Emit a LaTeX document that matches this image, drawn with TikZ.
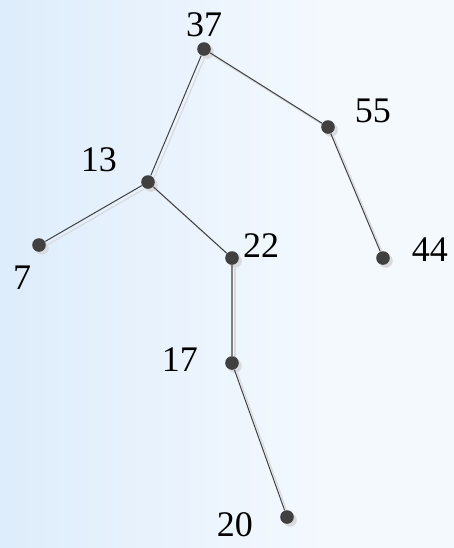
\documentclass[tikz,border=0pt]{standalone}
\usepackage{fontspec}
\setmainfont{Liberation Serif}
\definecolor{bgleft}{RGB}{214,232,250}
\definecolor{bgmid}{RGB}{244,249,254}
\definecolor{dotgray}{RGB}{64,64,64}
\definecolor{shadowgray}{RGB}{216,218,222}

\begin{document}
\begin{tikzpicture}[
    x=0.5pt, y=-0.5pt,
    dot/.style={circle, fill=dotgray, inner sep=0pt, minimum size=6.8pt},
    dotshadow/.style={circle, fill=shadowgray, inner sep=0pt, minimum size=6.8pt},
    key/.style={font=\fontsize{18}{20}\selectfont, inner sep=0pt},
    edge/.style={line width=0.5pt, draw=dotgray},
    edgeshadow/.style={line width=0.6pt, draw=shadowgray}
]
    % Background
    \useasboundingbox (0,0) rectangle (454,548);
    \begin{scope}
        \clip (0,0) rectangle (454,548);
        \fill[bgmid] (0,0) rectangle (454,548);
        \shade[left color=bgleft, right color=bgmid] (-110,0) rectangle (330,548);
    \end{scope}

    % Shadows
    \begin{scope}[shift={(3,3)}]
        \node[dotshadow] (s37) at (204,49) {};
        \node[dotshadow] (s55) at (328,127) {};
        \node[dotshadow] (s13) at (148,182) {};
        \node[dotshadow] (s7) at (39,245) {};
        \node[dotshadow] (s22) at (232,258) {};
        \node[dotshadow] (s44) at (383,258) {};
        \node[dotshadow] (s17) at (232,363) {};
        \node[dotshadow] (s20) at (287,517) {};
        \draw[edgeshadow] (s37) -- (s55);
        \draw[edgeshadow] (s37) -- (s13);
        \draw[edgeshadow] (s55) -- (s44);
        \draw[edgeshadow] (s13) -- (s7);
        \draw[edgeshadow] (s13) -- (s22);
        \draw[edgeshadow] (s22) -- (s17);
        \draw[edgeshadow] (s17) -- (s20);
    \end{scope}

    % Keys
    \node[dot] (n37) at (204,49) {};
    \node[dot] (n55) at (328,127) {};
    \node[dot] (n13) at (148,182) {};
    \node[dot] (n7) at (39,245) {};
    \node[dot] (n22) at (232,258) {};
    \node[dot] (n44) at (383,258) {};
    \node[dot] (n17) at (232,363) {};
    \node[dot] (n20) at (287,517) {};

    % Links
    \draw[edge] (n37) -- (n55);
    \draw[edge] (n37) -- (n13);
    \draw[edge] (n55) -- (n44);
    \draw[edge] (n13) -- (n7);
    \draw[edge] (n13) -- (n22);
    \draw[line width=1pt, draw=gray] (n22) -- (n17);
    \draw[edge] (n17) -- (n20);

    % Labels
    \node[key] (t37) at (204,25) {37};
    \node[key] (t55) at (373,111) {55};
    \node[key] (t13) at (99,160) {13};
    \node[key] (t7) at (22,278) {7};
    \node[key] (t22) at (261,246) {22};
    \node[key] (t44) at (430,250) {44};
    \node[key] (t17) at (180,360) {17};
    \node[key] (t20) at (235,525) {20};
\end{tikzpicture}
\end{document}
